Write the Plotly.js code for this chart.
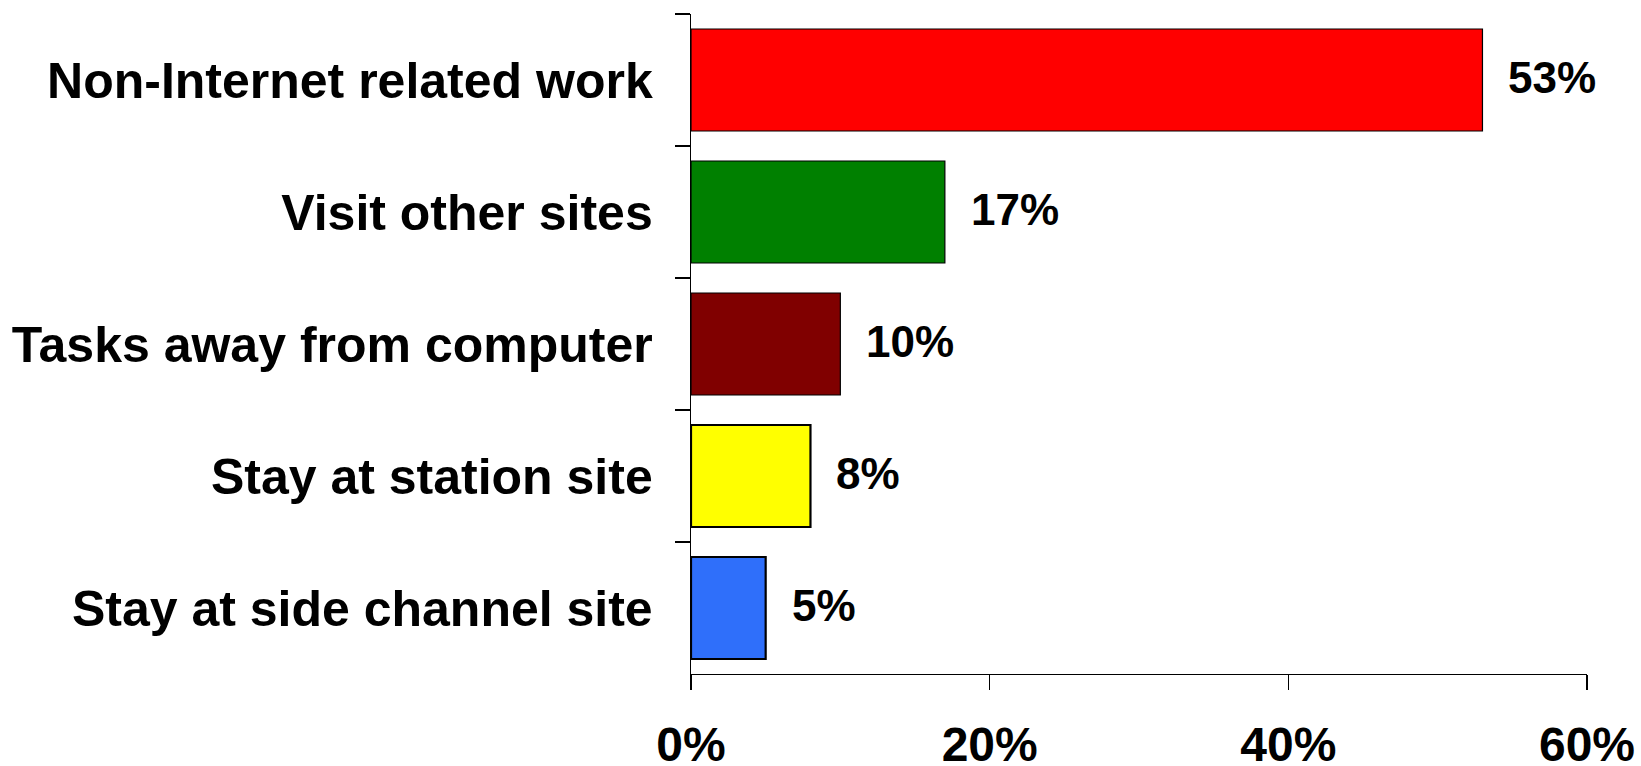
<!DOCTYPE html>
<html>
<head>
<meta charset="utf-8">
<script src="https://cdn.plot.ly/plotly-3.0.1.min.js"></script>
<style>html,body{margin:0;padding:0;background:#fff;}#chart{width:1641px;height:766px;}</style>
</head>
<body>
<div id="chart"></div>
<script>
const categories = ["Non-Internet related work", "Visit other sites", "Tasks away from computer", "Stay at station site", "Stay at side channel site"];
const values = [53, 17, 10, 8, 5];
const valueLabels = ["53%", "17%", "10%", "8%", "5%"];
const xTickVals = [0, 20, 40, 60];
const xTickText = ["0%", "20%", "40%", "60%"];

const FONT = "Liberation Sans, Arial, sans-serif";

const trace = {
  type: "bar",
  orientation: "h",
  y: categories,
  x: values,
  marker: {
    color: ["#ff0000", "#008000", "#800000", "#ffff00", "#2f6ffa"],
    line: {color: "#000000", width: [1.2, 1.2, 1.2, 2.2, 2.2]}
  },
  hoverinfo: "none"
};

const annotations = categories.map((c, i) => ({
  x: values[i], y: c, xref: "x", yref: "y",
  text: valueLabels[i], showarrow: false,
  xanchor: "left", yanchor: "middle", xshift: 24, yshift: 3,
  font: {family: FONT, size: 44, color: "#000", weight: "bold"}
}));

const layout = {
  width: 1641, height: 766,
  margin: {l: 691, r: 54, t: 14, b: 92, pad: 0},
  paper_bgcolor: "#ffffff", plot_bgcolor: "#ffffff",
  showlegend: false,
  bargap: 0.227,
  font: {family: FONT, color: "#000"},
  xaxis: {
    range: [0, 60], tickvals: xTickVals, ticktext: xTickText,
    showgrid: false, zeroline: false,
    showline: true, linecolor: "#000", linewidth: 1.3,
    ticks: "outside", ticklen: 15, tickwidth: 1.3, tickcolor: "#000",
    ticklabelstandoff: 13,
    tickfont: {family: FONT, size: 48, color: "#000", weight: "bold"},
    fixedrange: true
  },
  yaxis: {
    type: "category", autorange: "reversed",
    showgrid: false, zeroline: false,
    showline: true, linecolor: "#000", linewidth: 1.3,
    ticks: "outside", ticklen: 15, tickwidth: 1.3, tickcolor: "#000",
    tickson: "boundaries",
    ticklabelstandoff: 27,
    tickfont: {family: FONT, size: 50, color: "#000", weight: "bold"},
    fixedrange: true
  },
  annotations: annotations
};

Plotly.newPlot("chart", [trace], layout, {displayModeBar: false, staticPlot: true});
</script>
</body>
</html>
